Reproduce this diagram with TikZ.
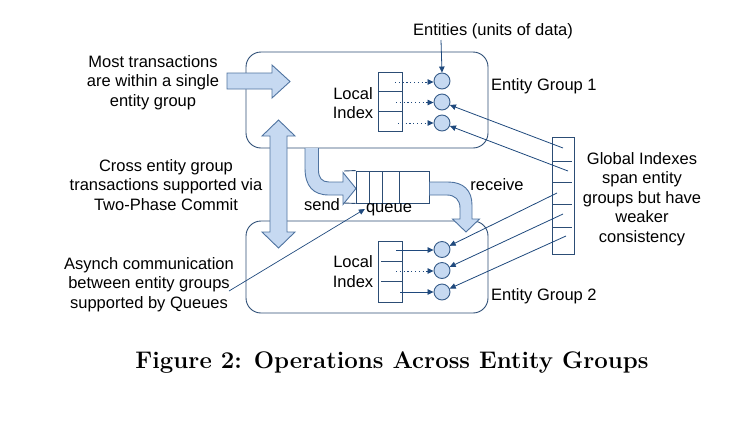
\documentclass[tikz,border=0pt]{standalone}
\usepackage{fontspec}
\setmainfont{Liberation Sans}
\newfontfamily\capfont{Latin Modern Roman}
\usetikzlibrary{arrows.meta}
\definecolor{ln}{HTML}{1F497D}
\definecolor{bfill}{HTML}{C6D9F1}
\definecolor{bline}{HTML}{4F73A0}
\definecolor{cline}{HTML}{385D8A}
\definecolor{gline}{HTML}{2C4D75}
\begin{document}
\begin{tikzpicture}[x=1pt,y=-1pt,
  txt/.style={font=\fontsize{16.5}{19.5}\selectfont, align=center, inner sep=0pt},
  gbox/.style={draw=gline, line width=0.9pt, rounded corners=15pt, minimum width=242pt},
  idx/.style={draw=gline, line width=0.9pt, inner sep=0pt},
  ent/.style={circle, draw=cline, fill=bfill, line width=0.9pt, minimum size=16pt, inner sep=0pt},
  barrow/.style={draw=bline, fill=bfill, line width=0.9pt, line join=miter},
  tip/.style={-{Triangle[length=6pt,width=5.5pt]}, draw=ln, line width=0.8pt},
  dots/.style={tip, dash pattern=on 1.2pt off 2.6pt},
  divl/.style={draw=gline, line width=0.9pt}]
\useasboundingbox (0,0) rectangle (729,432);

% entity groups
\node[gbox, minimum height=96pt] (g1) at (367,100) {};
\node[gbox, minimum height=92pt] (g2) at (367,267) {};

% local indexes
\node[idx, minimum width=24pt, minimum height=59pt] (li1) at (390,101.5) {};
\draw[divl] (378,91.7) -- (402,91.7) (378,111.3) -- (402,111.3);
\node[idx, minimum width=24pt, minimum height=61pt] (li2) at (390,271.5) {};
\draw[divl] (381,261.3) -- (402,261.3) (381,281.7) -- (402,281.7);

\node[txt] (lt1) at (353,103) {Local\\Index};
\node[txt] (lt2) at (353,271.5) {Local\\Index};

% entities
\node[ent] (c11) at (442,81) {};
\node[ent] (c12) at (442,102) {};
\node[ent] (c13) at (442,123) {};
\node[ent] (c21) at (442,249.5) {};
\node[ent] (c22) at (442,270.5) {};
\node[ent] (c23) at (442,292) {};

\coordinate (s11) at (395,82);
\coordinate (s12) at (396,102.5);
\coordinate (s13) at (398,123);
\coordinate (s21) at (396,250);
\coordinate (s22) at (396,271);
\coordinate (s23) at (400,292);
\draw[dots] (s11) -- (c11.west |- s11);
\draw[dots] (s12) -- (c12.west |- s12);
\draw[dots] (s13) -- (c13.west |- s13);
\draw[tip] (s21) -- (c21.west |- s21);
\draw[dots] (s22) -- (c22.west |- s22);
\draw[tip] (s23) -- (c23.west |- s23);

\node[txt, anchor=west] (eg1) at (491,86) {Entity Group 1};
\node[txt, anchor=west] (eg2) at (491,296) {Entity Group 2};

\node[txt] (entl) at (493,31) {Entities (units of data)};
\coordinate (entf) at (441,40);
\draw[tip] (entf) -- (c11.north);

% global index
\node[idx, minimum width=22pt, minimum height=117pt] (gi) at (563,195.5) {};
\draw[divl] (553,161) -- (572,161) (553,182) -- (572,182)
            (553,204) -- (572,204) (553,227) -- (572,227);
\coordinate (g12) at (563,148);
\coordinate (g13) at (568,171);
\coordinate (g21) at (557,193);
\coordinate (g22) at (563,214);
\coordinate (g23) at (566,236);
\draw[tip] (g12) -- (c12);
\draw[tip] (g13) -- (c13);
\draw[tip] (g21) -- (c21);
\draw[tip] (g22) -- (c22);
\draw[tip] (g23) -- (c23);

\node[txt] (gtxt) at (642,199) {Global Indexes\\span entity\\groups but have\\weaker\\consistency};

% block arrows
\draw[barrow] (227,73) -- (272,73) -- (272,65) -- (290,81.5) -- (272,98) -- (272,89) -- (227,89) -- cycle;
\draw[barrow] (270,136) -- (262,136) -- (278.5,120) -- (295,136) -- (287,136)
  -- (287,232) -- (295,232) -- (278.5,248) -- (262,232) -- (270,232) -- cycle;

% send arrow
\draw[barrow] (305,148) -- (305,168) .. controls (305,186) and (313,195) .. (329,195)
  -- (343,195) -- (343,204.5) -- (356,188.5) -- (343,172.5) -- (343,182)
  -- (329,182) .. controls (322,182) and (318.5,178) .. (318.5,170) -- (318.5,148);

% queue
\node[idx, minimum width=73pt, minimum height=32pt] (q) at (392.5,187) {};
\draw[divl] (369,171) -- (369,203) (382,171) -- (382,203) (399,171) -- (399,203);
\draw[divl] (344,171) -- (q.north west) (344,203) -- (q.south west);

% receive arrow
\draw[barrow] (q.east |- 0,182) -- (448,182) .. controls (463,182) and (472,190) .. (472,205)
  -- (472,219) -- (479.5,219) -- (466,232) -- (452.5,219) -- (460,219) -- (460,208)
  .. controls (460,200) and (455,195) .. (447,195) -- (q.east |- 0,195) -- cycle;

\node[txt] (send) at (322,205) {send};
\node[txt] (queue) at (389,210) {queue};
\node[txt] (recv) at (497,185) {receive};

% left texts
\node[txt] (t1) at (153,82.5) {Most transactions\\are within a single\\entity group};
\node[txt] (t2) at (166,185) {Cross entity group\\transactions supported via\\Two-Phase Commit};
\node[txt] (t3) at (149,284.5) {Asynch communication\\between entity groups\\supported by Queues};
\coordinate (t3e) at (229,291);
\draw[tip, line width=0.7pt] (t3e) -- ([xshift=-1pt,yshift=1pt]queue.west);

% caption
\node[inner sep=0pt] (cap) at (392,363) {\capfont\bfseries\fontsize{24}{28}\selectfont Figure 2: Operations Across Entity Groups};
\end{tikzpicture}
\end{document}
